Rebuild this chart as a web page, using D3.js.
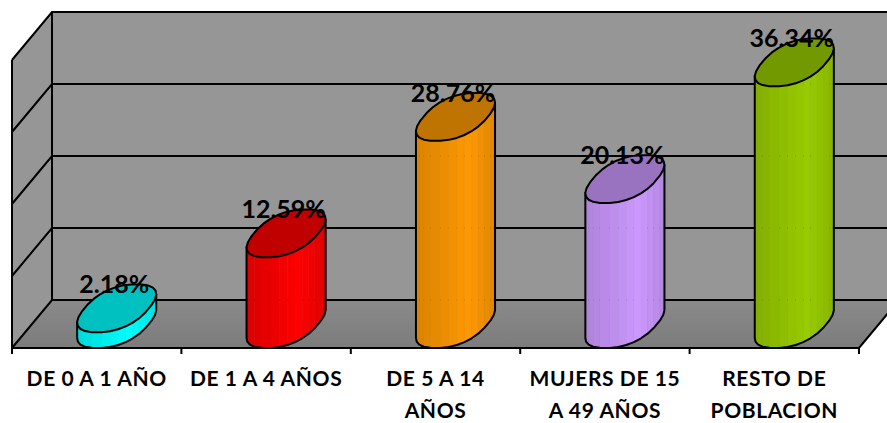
<!DOCTYPE html>
<html><head><meta charset="utf-8">
<script src="https://cdnjs.cloudflare.com/ajax/libs/d3/7.8.5/d3.min.js"></script>
<style>html,body{margin:0;padding:0;background:#fff;overflow:hidden}svg{display:block}
text{font-family:Lato,"Open Sans",sans-serif;font-weight:700;fill:#000}</style></head>
<body><svg id="c" width="887" height="423"></svg>
<script>
const categories = ["DE 0 A 1 AÑO","DE 1 A 4 AÑOS","DE 5 A 14 AÑOS","MUJERS DE 15 A 49 AÑOS","RESTO DE POBLACION"];
const categoryLines = [["DE 0 A 1 AÑO"],["DE 1 A 4 AÑOS"],["DE 5 A 14","AÑOS"],["MUJERS DE 15","A 49 AÑOS"],["RESTO DE","POBLACION"]];
const values = [2.18,12.59,28.76,20.13,36.34];
const labels = ["2.18%","12.59%","28.76%","20.13%","36.34%"];
const bodyColors = ["#00FFFF","#FF0000","#FF9900","#CC99FF","#99CC00"];
const topColors = ["#00C0C0","#C00000","#BF7300","#9973BF","#739900"];
const axisTicks = [0,10,20,30,40];

const W=887,H=423, depthX=40, depthY=48, left=12, right=859, floorY=348;
const svg=d3.select("#c");
const x=d3.scaleBand().domain(categories).range([left,right]);
const y=d3.scaleLinear().domain([0,40]).range([floorY,floorY-288]);
const line=d3.line();
const defs=svg.append("defs");
defs.append("clipPath").attr("id","page").append("rect").attr("width",W).attr("height",H);
const fg=defs.append("linearGradient").attr("id","floorG").attr("x1",0).attr("x2",0).attr("y1",0).attr("y2",1);
fg.append("stop").attr("offset",0).attr("stop-color","#8a8a8a");
fg.append("stop").attr("offset",1).attr("stop-color","#7c7c7c");

const g=svg.append("g").attr("clip-path","url(#page)");
const wallFill="#969696", K="#000";
g.append("path").attr("d",line([[left+depthX,y(40)-depthY],[right+depthX,y(40)-depthY],[right+depthX,y(0)-depthY],[left+depthX,y(0)-depthY]])+"Z").attr("fill",wallFill);
g.append("path").attr("d",line([[left,y(40)],[left+depthX,y(40)-depthY],[left+depthX,y(0)-depthY],[left,y(0)]])+"Z").attr("fill",wallFill);
g.append("path").attr("d",line([[left,y(0)],[left+depthX,y(0)-depthY],[right+depthX,y(0)-depthY],[right,y(0)]])+"Z").attr("fill","url(#floorG)");
axisTicks.forEach(v=>{
  g.append("path").attr("d",line([[left,y(v)],[left+depthX,y(v)-depthY],[right+depthX,y(v)-depthY]])).attr("fill","none").attr("stroke",K).attr("stroke-width",2);
});
g.append("path").attr("d",line([[left,y(40)],[left,y(0)]])).attr("stroke",K).attr("stroke-width",2);
g.append("path").attr("d",line([[left+depthX,y(40)-depthY],[left+depthX,y(0)-depthY]])).attr("stroke",K).attr("stroke-width",2);
g.append("path").attr("d",line([[left,y(0)],[right,y(0)],[right+depthX,y(0)-depthY]])).attr("fill","none").attr("stroke",K).attr("stroke-width",2);
const edges=[...categories.map(c=>x(c)),right];
edges.forEach(e=>g.append("path").attr("d",line([[e,floorY],[e,floorY+6]])).attr("stroke",K).attr("stroke-width",2));

const A=32.3,B=19.7,C=24, T0=Math.atan2(B,A)+Math.PI, N=14, P=0.85;
const sp=v=>Math.sign(v)*Math.pow(Math.abs(v),P);
const pt=(cx,cy,t)=>[cx+A*sp(Math.cos(t))+B*sp(Math.sin(t)), cy-C*sp(Math.sin(t))];
const shade=f=>{
  const peak=0.68;
  return f<peak?0.86+0.14*Math.pow(Math.max(f,0)/peak,1.1):1-0.12*(f-peak)/(1-peak);
};
const mult=(col,s)=>{const c=d3.rgb(col);return d3.rgb(c.r*s,c.g*s,c.b*s).formatHex();};
categories.forEach((c,i)=>{
  const cx=x(c)+x.bandwidth()/2+depthX/2;
  const by=floorY-depthY/2, ty=y(values[i])-depthY/2;
  const cyl=g.append("g");
  const ts=d3.range(N+1).map(k=>T0+Math.PI*k/N);
  const col=k=>mult(bodyColors[i],shade((pt(cx,0,ts[k])[0]+pt(cx,0,ts[k+1])[0]-2*(cx-39))/(2*78)));
  cyl.selectAll("path.facet").data(d3.range(N)).join("path").attr("class","facet")
    .attr("d",k=>line([pt(cx,by,ts[k]),pt(cx,by,ts[k+1]),pt(cx,ty,ts[k+1]),pt(cx,ty,ts[k])])+"Z")
    .attr("fill",col).attr("stroke",col).attr("stroke-width",0.4);
  const outline=[...ts.map(t=>pt(cx,by,t)),pt(cx,ty,ts[N]),pt(cx,ty,ts[0])];
  cyl.append("path").attr("d",line(outline)+"Z").attr("fill","none").attr("stroke",K).attr("stroke-width",2).attr("stroke-linejoin","round");
  const topPts=d3.range(2*N).map(k=>pt(cx,ty,T0+Math.PI*k/N));
  cyl.append("path").attr("d",line(topPts)+"Z").attr("fill",topColors[i]).attr("stroke",K).attr("stroke-width",2).attr("stroke-linejoin","round");
});
categories.forEach((c,i)=>{
  g.append("text").attr("x",x(c)+x.bandwidth()/2+depthX/2-2.5).attr("y",y(values[i])-depthY/2-15)
   .attr("text-anchor","middle").attr("font-size",25).text(labels[i]);
});
categories.forEach((c,i)=>{
  categoryLines[i].forEach((l,j)=>{
    g.append("text").attr("x",x(c)+x.bandwidth()/2).attr("y",386+j*32)
     .attr("text-anchor","middle").attr("font-size",21).style("letter-spacing","0.6px").text(l);
  });
});
</script></body></html>
